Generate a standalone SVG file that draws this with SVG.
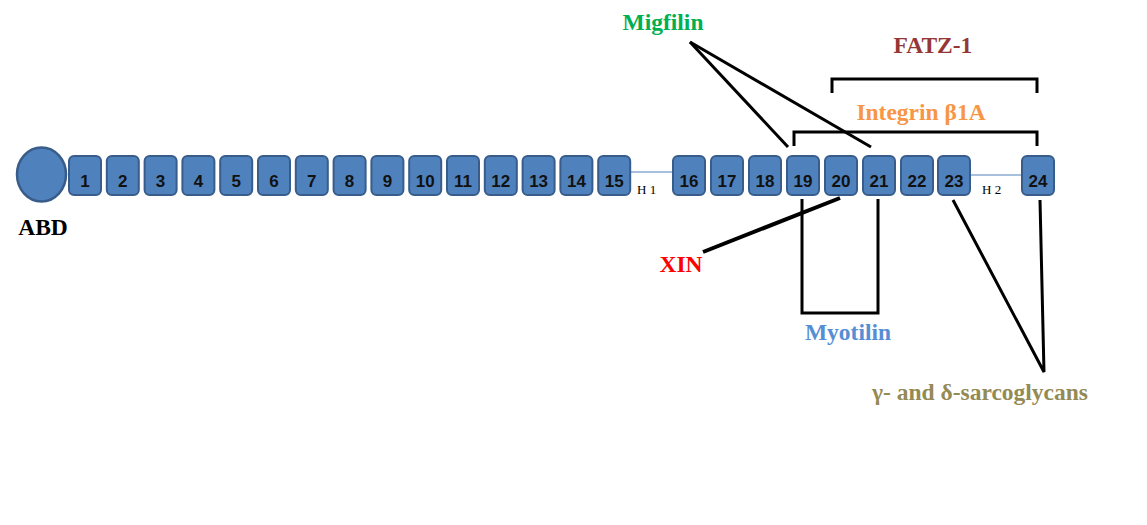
<svg xmlns="http://www.w3.org/2000/svg" width="1147" height="525" viewBox="0 0 1147 525">
<style>
.box{fill:#4F81BD;stroke:#385D8A;stroke-width:2}
.num{font-family:"Liberation Sans",Arial,sans-serif;font-weight:bold;font-size:17px;fill:#111;text-anchor:middle}
.lbl{font-family:"Liberation Serif","Times New Roman",serif;font-weight:bold;font-size:23.5px;text-anchor:middle}
.h{font-family:"Liberation Serif","Times New Roman",serif;font-size:13px;fill:#000}
.ln{fill:none;stroke:#000;stroke-width:3}
.hinge{stroke:#4F81BD;stroke-width:1.2}
</style>
<rect width="1147" height="525" fill="#fff"/>
<g id="connectors">
<line class="hinge" x1="630" y1="172" x2="673" y2="172"/>
<line class="hinge" x1="970" y1="175" x2="1022" y2="175"/>
<polyline class="ln" points="690,42 788,147"/>
<polyline class="ln" points="690,42 871,147"/>
<polyline class="ln" points="832,93 832,79 1037,79 1037,93"/>
<polyline class="ln" points="794,146 794,132 1037,132 1037,146"/>
<polyline class="ln" points="802,199 802,313 878,313 878,199"/>
<line class="ln" style="stroke-width:4" x1="840" y1="198" x2="703" y2="252"/>
<polyline class="ln" points="953,200 1044,372 1040,200"/>
</g>
<g id="abd">
<ellipse cx="41.5" cy="174.5" rx="24.5" ry="27" fill="#4F81BD" stroke="#385D8A" stroke-width="2.5"/>
<text class="lbl" x="43" y="235" fill="#000" font-size="24">ABD</text>
</g>
<g id="d1"><rect class="box" x="69" y="156" width="32" height="39" rx="5"/><text class="num" x="85" y="187">1</text></g>
<g id="d2"><rect class="box" x="106.8" y="156" width="32" height="39" rx="5"/><text class="num" x="122.8" y="187">2</text></g>
<g id="d3"><rect class="box" x="144.6" y="156" width="32" height="39" rx="5"/><text class="num" x="160.6" y="187">3</text></g>
<g id="d4"><rect class="box" x="182.4" y="156" width="32" height="39" rx="5"/><text class="num" x="198.4" y="187">4</text></g>
<g id="d5"><rect class="box" x="220.2" y="156" width="32" height="39" rx="5"/><text class="num" x="236.2" y="187">5</text></g>
<g id="d6"><rect class="box" x="258" y="156" width="32" height="39" rx="5"/><text class="num" x="274" y="187">6</text></g>
<g id="d7"><rect class="box" x="295.8" y="156" width="32" height="39" rx="5"/><text class="num" x="311.8" y="187">7</text></g>
<g id="d8"><rect class="box" x="333.6" y="156" width="32" height="39" rx="5"/><text class="num" x="349.6" y="187">8</text></g>
<g id="d9"><rect class="box" x="371.4" y="156" width="32" height="39" rx="5"/><text class="num" x="387.4" y="187">9</text></g>
<g id="d10"><rect class="box" x="409.2" y="156" width="32" height="39" rx="5"/><text class="num" x="425.2" y="187">10</text></g>
<g id="d11"><rect class="box" x="447" y="156" width="32" height="39" rx="5"/><text class="num" x="463" y="187">11</text></g>
<g id="d12"><rect class="box" x="484.8" y="156" width="32" height="39" rx="5"/><text class="num" x="500.8" y="187">12</text></g>
<g id="d13"><rect class="box" x="522.6" y="156" width="32" height="39" rx="5"/><text class="num" x="538.6" y="187">13</text></g>
<g id="d14"><rect class="box" x="560.4" y="156" width="32" height="39" rx="5"/><text class="num" x="576.4" y="187">14</text></g>
<g id="d15"><rect class="box" x="598.2" y="156" width="32" height="39" rx="5"/><text class="num" x="614.2" y="187">15</text></g>
<g id="h1"><text class="h" x="637" y="194">H 1</text></g>
<g id="d16"><rect class="box" x="673" y="156" width="32" height="39" rx="5"/><text class="num" x="689" y="187">16</text></g>
<g id="d17"><rect class="box" x="711" y="156" width="32" height="39" rx="5"/><text class="num" x="727" y="187">17</text></g>
<g id="d18"><rect class="box" x="749" y="156" width="32" height="39" rx="5"/><text class="num" x="765" y="187">18</text></g>
<g id="d19"><rect class="box" x="787" y="156" width="32" height="39" rx="5"/><text class="num" x="803" y="187">19</text></g>
<g id="d20"><rect class="box" x="825" y="156" width="32" height="39" rx="5"/><text class="num" x="841" y="187">20</text></g>
<g id="d21"><rect class="box" x="863" y="156" width="32" height="39" rx="5"/><text class="num" x="879" y="187">21</text></g>
<g id="d22"><rect class="box" x="901" y="156" width="32" height="39" rx="5"/><text class="num" x="917" y="187">22</text></g>
<g id="d23"><rect class="box" x="938" y="156" width="32" height="39" rx="5"/><text class="num" x="954" y="187">23</text></g>
<g id="h2"><text class="h" x="982" y="194">H 2</text></g>
<g id="d24"><rect class="box" x="1022" y="156" width="32" height="39" rx="5"/><text class="num" x="1038" y="187">24</text></g>
<g id="migfilin"><text class="lbl" x="663" y="30" fill="#00B050">Migfilin</text></g>
<g id="fatz1"><text class="lbl" x="933" y="53" fill="#953735">FATZ-1</text></g>
<g id="integrin"><text class="lbl" x="921" y="120" fill="#F79646">Integrin β1A</text></g>
<g id="xin"><text class="lbl" x="681" y="272" fill="#FF0000">XIN</text></g>
<g id="myotilin"><text class="lbl" x="848" y="340" fill="#558ED5">Myotilin</text></g>
<g id="sarcoglycans"><text class="lbl" x="980" y="400" fill="#948A54">γ- and δ-sarcoglycans</text></g>
</svg>
